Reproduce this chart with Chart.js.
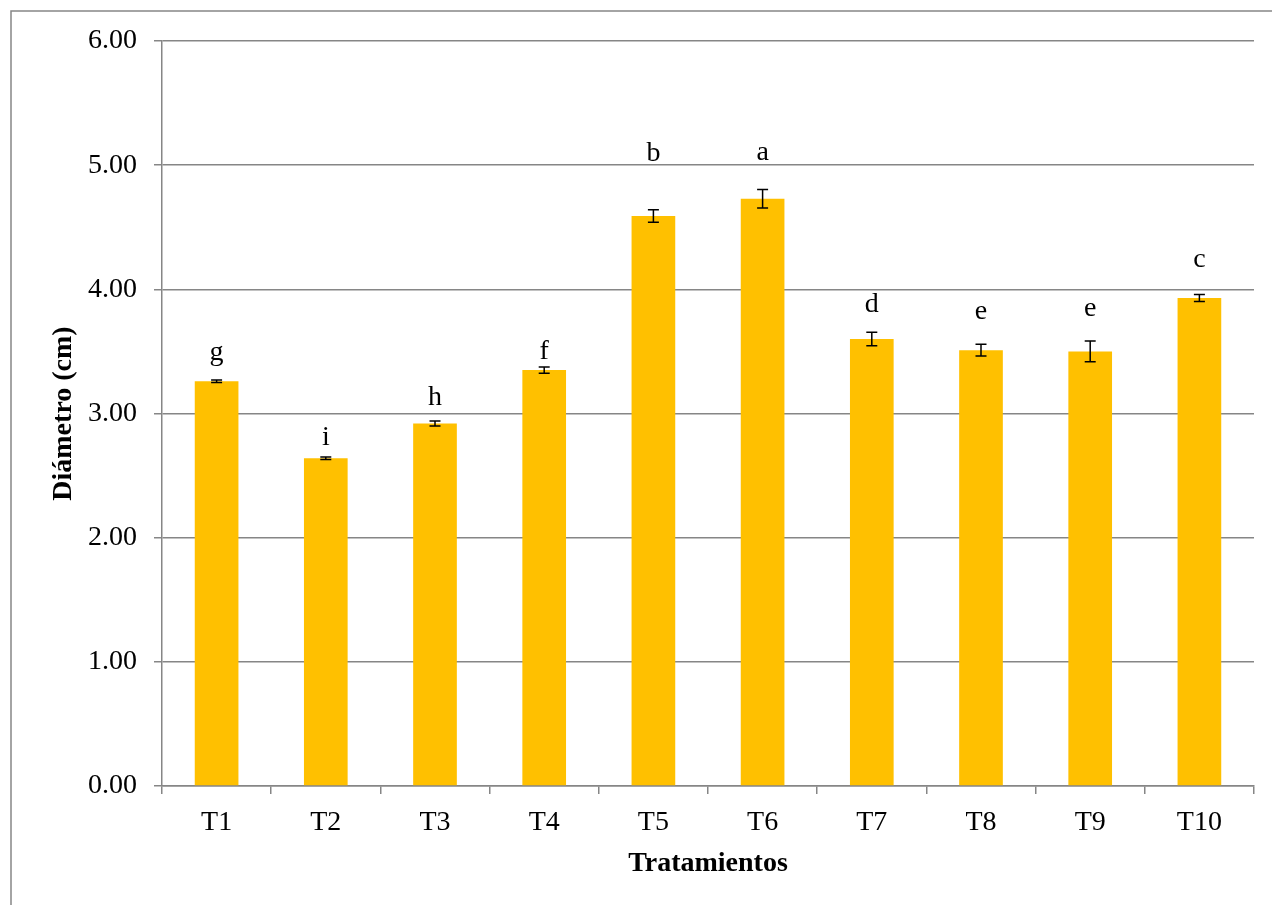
<!DOCTYPE html>
<html>
<head>
<meta charset="utf-8">
<script src="https://cdn.jsdelivr.net/npm/chart.js@4.4.0/dist/chart.umd.min.js"></script>
<style>
  html, body { margin: 0; padding: 0; background: #fff; overflow: hidden; }
  #wrap { position: relative; width: 1272px; height: 905px; }
</style>
</head>
<body>
<div id="wrap"><canvas id="chart" width="1272" height="905"></canvas></div>
<script>
const categories = ['T1', 'T2', 'T3', 'T4', 'T5', 'T6', 'T7', 'T8', 'T9', 'T10'];
const means = [3.26, 2.64, 2.92, 3.35, 4.59, 4.73, 3.60, 3.51, 3.50, 3.93];
const errors = [0.01, 0.01, 0.02, 0.025, 0.05, 0.075, 0.054, 0.047, 0.083, 0.028];
const letters = ['g', 'i', 'h', 'f', 'b', 'a', 'd', 'e', 'e', 'c'];
// baseline of each letter, in axis units
const letterPos = [3.43, 2.75, 3.07, 3.44, 5.03, 5.04, 3.82, 3.76, 3.785, 4.18];
const yTicks = [0, 1, 2, 3, 4, 5, 6];

const FONT = '"Liberation Serif", "Times New Roman", serif';
const GRID = '#868686';

// outer frame like the Excel chart area
const framePlugin = {
  id: 'frame',
  beforeDraw(chart) {
    const ctx = chart.ctx;
    ctx.save();
    ctx.fillStyle = '#fff';
    ctx.fillRect(0, 0, chart.width, chart.height);
    ctx.strokeStyle = GRID;
    ctx.lineWidth = 1.5;
    ctx.strokeRect(11, 11, chart.width + 20, chart.height + 20);
    ctx.restore();
  }
};

// error bars and significance letters
const errorPlugin = {
  id: 'errorbars',
  afterDatasetsDraw(chart) {
    const ctx = chart.ctx;
    const x = chart.scales.x, y = chart.scales.y;
    ctx.save();
    ctx.strokeStyle = '#000';
    ctx.lineWidth = 1.5;
    means.forEach((m, i) => {
      const cx = x.getPixelForValue(i);
      const top = y.getPixelForValue(m + errors[i]);
      const bot = y.getPixelForValue(m - errors[i]);
      ctx.beginPath();
      ctx.moveTo(cx, top); ctx.lineTo(cx, bot);
      ctx.moveTo(cx - 5.5, top); ctx.lineTo(cx + 5.5, top);
      ctx.moveTo(cx - 5.5, bot); ctx.lineTo(cx + 5.5, bot);
      ctx.stroke();
    });
    ctx.fillStyle = '#000';
    ctx.font = '28px ' + FONT;
    ctx.textAlign = 'center';
    ctx.textBaseline = 'alphabetic';
    letters.forEach((l, i) => {
      ctx.fillText(l, x.getPixelForValue(i), y.getPixelForValue(letterPos[i]));
    });
    ctx.restore();
  }
};

new Chart(document.getElementById('chart'), {
  type: 'bar',
  data: {
    labels: categories,
    datasets: [{
      data: means,
      backgroundColor: '#FFC000',
      borderWidth: 0,
      barPercentage: 0.4,
      categoryPercentage: 1
    }]
  },
  options: {
    responsive: false,
    animation: false,
    layout: { padding: { top: 41, right: 18, left: 0, bottom: 0 } },
    plugins: {
      legend: { display: false },
      tooltip: { enabled: false }
    },
    scales: {
      x: {
        grid: {
          display: true,
          offset: true,
          drawOnChartArea: false,
          drawTicks: true,
          tickLength: 8,
          color: GRID,
          lineWidth: 1.5
        },
        border: { display: true, color: GRID, width: 1.5 },
        ticks: {
          color: '#000',
          font: { family: FONT, size: 28 },
          padding: 12,
          maxRotation: 0
        },
        title: {
          display: true,
          text: 'Tratamientos',
          color: '#000',
          font: { family: FONT, size: 28, weight: 'bold' },
          padding: { top: 8, bottom: 24 }
        },
        afterFit(scale) { scale.height = 119; }
      },
      y: {
        min: 0,
        max: 6,
        afterBuildTicks(scale) { scale.ticks = yTicks.map(v => ({ value: v })); },
        grid: {
          color: GRID,
          lineWidth: 1.5,
          drawTicks: true,
          tickLength: 8
        },
        border: { display: true, color: GRID, width: 1.5 },
        ticks: {
          color: '#000',
          font: { family: FONT, size: 28 },
          padding: 17,
          callback: v => Number(v).toFixed(2)
        },
        title: {
          display: true,
          text: 'Diámetro (cm)',
          color: '#000',
          font: { family: FONT, size: 28, weight: 'bold' },
          padding: { top: 47, bottom: 8 }
        },
        afterFit(scale) { scale.width = 162; }
      }
    }
  },
  plugins: [framePlugin, errorPlugin]
});
</script>
</body>
</html>
